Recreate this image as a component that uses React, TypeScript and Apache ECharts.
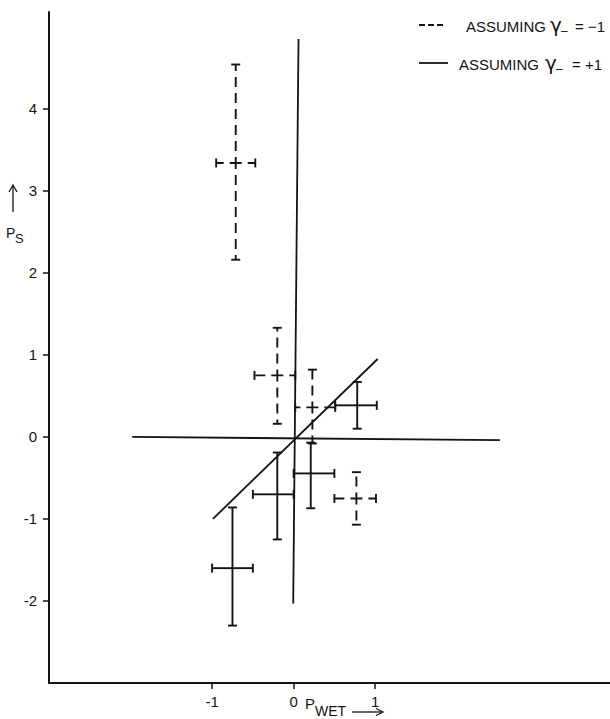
import React, { useEffect, useRef } from "react";
import * as echarts from "echarts";

// Axis ticks
const xTickValues = [-1, 0, 1];
const yTickValues = [-2, -1, 0, 1, 2, 3, 4];

// Error bars assuming gamma_- = -1 (dashed)
const dashedX = [-0.71, -0.2, 0.23, 0.77];
const dashedY = [3.34, 0.75, 0.36, -0.75];
const dashedXLow = [-0.95, -0.48, 0.02, 0.5];
const dashedXHigh = [-0.47, 0.02, 0.51, 1.01];
const dashedYLow = [2.16, 0.16, -0.08, -1.07];
const dashedYHigh = [4.54, 1.33, 0.82, -0.43];

// Error bars assuming gamma_- = +1 (solid)
const solidX = [-0.75, -0.2, 0.21, 0.78];
const solidY = [-1.6, -0.7, -0.445, 0.385];
const solidXLow = [-1.0, -0.5, 0.0, 0.51];
const solidXHigh = [-0.5, 0.0, 0.5, 1.02];
const solidYLow = [-2.3, -1.25, -0.87, 0.1];
const solidYHigh = [-0.86, -0.19, -0.07, 0.67];

// Reference lines
const verticalLine = [
  [-0.005, -2.03],
  [0.06, 4.85],
];
const horizontalLine = [
  [-1.98, 0.0],
  [2.53, -0.04],
];
const fitLine = [
  [-0.99, -1.0],
  [1.03, 0.95],
];

const INK = "#141414";
const FONT = "Liberation Sans";

function makeRender(dashed: boolean) {
  return (params: any, api: any) => {
    const x = api.value(0);
    const y = api.value(1);
    const c = api.coord([x, y]);
    const pl = api.coord([api.value(2), y]);
    const pr = api.coord([api.value(3), y]);
    const pb = api.coord([x, api.value(4)]);
    const pt = api.coord([x, api.value(5)]);
    const base: any = { stroke: INK, lineWidth: 1.9, fill: null };
    const arm: any = dashed ? { ...base, lineDash: [10, 6], lineDashOffset: 4 } : base;
    const cap = 4.5;
    const children: any[] = [];
    [pl, pr, pb, pt].forEach((p) => {
      children.push({
        type: "line",
        shape: { x1: c[0], y1: c[1], x2: p[0], y2: p[1] },
        style: arm,
      });
    });
    [pl, pr].forEach((p) => {
      children.push({
        type: "line",
        shape: { x1: p[0], y1: p[1] - cap, x2: p[0], y2: p[1] + cap },
        style: base,
      });
    });
    [pb, pt].forEach((p) => {
      children.push({
        type: "line",
        shape: { x1: p[0] - cap, y1: p[1], x2: p[0] + cap, y2: p[1] },
        style: base,
      });
    });
    return { type: "group", children };
  };
}

export default function App() {
  const ref = useRef<HTMLDivElement>(null);

  useEffect(() => {
    if (!ref.current) return;
    const chart = echarts.init(ref.current, null, { renderer: "svg" });

    const dashedData = dashedX.map((x, i) => [
      x,
      dashedY[i],
      dashedXLow[i],
      dashedXHigh[i],
      dashedYLow[i],
      dashedYHigh[i],
    ]);
    const solidData = solidX.map((x, i) => [
      x,
      solidY[i],
      solidXLow[i],
      solidXHigh[i],
      solidYLow[i],
      solidYHigh[i],
    ]);

    const refLine = (data: number[][]) => ({
      type: "line",
      data,
      showSymbol: false,
      symbol: "none",
      silent: true,
      lineStyle: { color: INK, width: 1.8 },
      z: 2,
    });

    const option: any = {
      animation: false,
      backgroundColor: "#ffffff",
      grid: { left: 49, right: 0, top: 12, bottom: 36 },
      xAxis: {
        type: "value",
        min: -3,
        max: 3.88,
        interval: 1,
        splitLine: { show: false },
        axisLine: { show: true, onZero: false, lineStyle: { color: INK, width: 2 } },
        axisTick: {
          show: true,
          length: 6,
          customValues: xTickValues,
          lineStyle: { color: INK, width: 1.5 },
        },
        axisLabel: {
          customValues: xTickValues,
          margin: 11,
          color: INK,
          fontSize: 15,
          fontFamily: FONT,
          formatter: (v: number) => (v === 1 ? "{up|1}" : String(v)),
          rich: {
            up: { fontSize: 15, fontFamily: FONT, color: INK, padding: [0, 0, 10, 0] },
          },
        },
      },
      yAxis: {
        type: "value",
        min: -3,
        max: 5.18,
        interval: 1,
        splitLine: { show: false },
        axisLine: { show: true, onZero: false, lineStyle: { color: INK, width: 2 } },
        axisTick: {
          show: true,
          length: 6,
          customValues: yTickValues,
          lineStyle: { color: INK, width: 1.5 },
        },
        axisLabel: {
          customValues: yTickValues,
          margin: 12,
          color: INK,
          fontSize: 15,
          fontFamily: FONT,
        },
      },
      series: [
        refLine(verticalLine),
        refLine(horizontalLine),
        refLine(fitLine),
        {
          type: "custom",
          name: "ASSUMING γ₋ = −1",
          renderItem: makeRender(true),
          data: dashedData,
          encode: { x: [0, 2, 3], y: [1, 4, 5] },
          clip: false,
          z: 3,
        },
        {
          type: "custom",
          name: "ASSUMING γ₋ = +1",
          renderItem: makeRender(false),
          data: solidData,
          encode: { x: [0, 2, 3], y: [1, 4, 5] },
          clip: false,
          z: 3,
        },
      ],
      graphic: [
        // legend row 1 (dashed)
        {
          type: "line",
          shape: { x1: 419, y1: 25, x2: 444, y2: 25 },
          style: { stroke: INK, lineWidth: 1.8, lineDash: [6, 3] },
        },
        {
          type: "text",
          x: 466,
          y: 26,
          style: { text: "ASSUMING", font: `15px "${FONT}"`, fill: INK, textVerticalAlign: "middle" },
        },
        {
          type: "text",
          x: 550,
          y: 25,
          style: { text: "γ", font: `20px "DejaVu Sans"`, fill: INK, textVerticalAlign: "middle" },
        },
        {
          type: "text",
          x: 561,
          y: 31,
          style: { text: "–", font: `12px "${FONT}"`, fill: INK, textVerticalAlign: "middle" },
        },
        {
          type: "text",
          x: 575,
          y: 26,
          style: { text: "= −1", font: `15px "${FONT}"`, fill: INK, textVerticalAlign: "middle" },
        },
        // legend row 2 (solid)
        {
          type: "line",
          shape: { x1: 419, y1: 63, x2: 448, y2: 63 },
          style: { stroke: INK, lineWidth: 1.8 },
        },
        {
          type: "text",
          x: 459,
          y: 64,
          style: { text: "ASSUMING", font: `15px "${FONT}"`, fill: INK, textVerticalAlign: "middle" },
        },
        {
          type: "text",
          x: 545,
          y: 63,
          style: { text: "γ", font: `20px "DejaVu Sans"`, fill: INK, textVerticalAlign: "middle" },
        },
        {
          type: "text",
          x: 556,
          y: 69,
          style: { text: "–", font: `12px "${FONT}"`, fill: INK, textVerticalAlign: "middle" },
        },
        {
          type: "text",
          x: 572,
          y: 64,
          style: { text: "= +1", font: `15px "${FONT}"`, fill: INK, textVerticalAlign: "middle" },
        },
        // y-axis title: arrow and P_S
        {
          type: "line",
          shape: { x1: 13, y1: 212, x2: 13, y2: 186 },
          style: { stroke: INK, lineWidth: 1.3 },
        },
        {
          type: "polyline",
          shape: { points: [[9, 192], [13, 185], [17, 192]] },
          style: { stroke: INK, lineWidth: 1.3, fill: null },
        },
        {
          type: "text",
          x: 6,
          y: 233,
          style: { text: "P", font: `14px "${FONT}"`, fill: INK, textVerticalAlign: "middle" },
        },
        {
          type: "text",
          x: 15,
          y: 238,
          style: { text: "S", font: `13px "${FONT}"`, fill: INK, textVerticalAlign: "middle" },
        },
        // x-axis title: P_WET and arrow
        {
          type: "text",
          x: 305,
          y: 703,
          style: { text: "P", font: `15px "${FONT}"`, fill: INK, textVerticalAlign: "middle" },
        },
        {
          type: "text",
          x: 315,
          y: 711,
          style: { text: "WET", font: `14px "${FONT}"`, fill: INK, textVerticalAlign: "middle" },
        },
        {
          type: "line",
          shape: { x1: 352, y1: 712, x2: 382, y2: 712 },
          style: { stroke: INK, lineWidth: 1.3 },
        },
        {
          type: "polyline",
          shape: { points: [[376, 708.5], [383, 712], [376, 715.5]] },
          style: { stroke: INK, lineWidth: 1.3, fill: null },
        },
      ],
    };

    chart.setOption(option);
    return () => chart.dispose();
  }, []);

  return (
    <div
      ref={ref}
      style={{ position: "absolute", left: 0, top: 0, width: 610, height: 719, background: "#fff" }}
    />
  );
}
